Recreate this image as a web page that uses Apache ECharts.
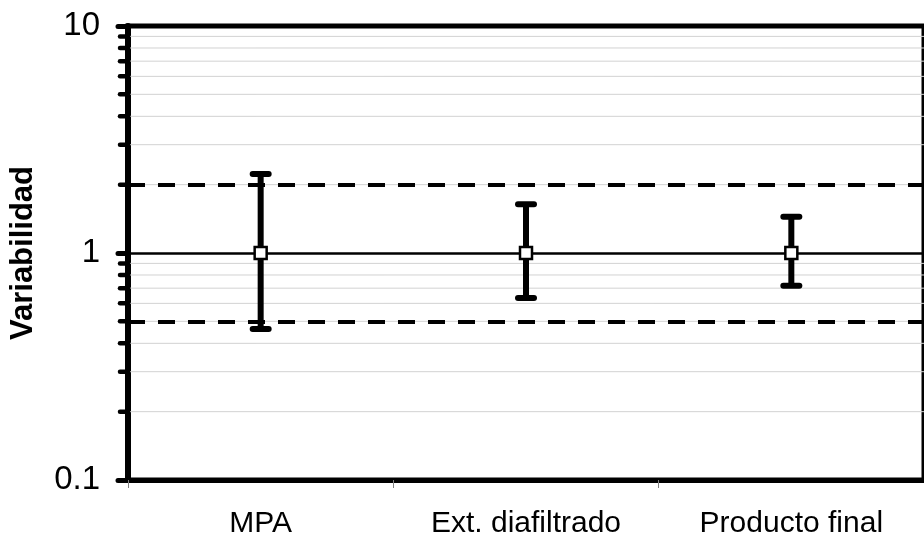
<!DOCTYPE html>
<html>
<head>
<meta charset="utf-8">
<script src="https://cdn.jsdelivr.net/npm/echarts@6/dist/echarts.min.js"></script>
<style>html,body{margin:0;padding:0;background:#fff;}#c{width:924px;height:543px;}</style>
</head>
<body>
<div id="c"></div>
<script>
const categories = ['MPA', 'Ext. diafiltrado', 'Producto final'];
const centerValues = [1, 1, 1];
const lowerValues = [0.463, 0.633, 0.718];
const upperValues = [2.23, 1.64, 1.445];
const referenceValue = 1;
const upperLimit = 2;
const lowerLimit = 0.5;
const yTickLabels = [0.1, 1, 10];
const minorValues = [0.2, 0.3, 0.4, 0.5, 0.6, 0.7, 0.8, 0.9, 2, 3, 4, 5, 6, 7, 8, 9];

const FONT = 'Liberation Sans, Arial, sans-serif';
const chart = echarts.init(document.getElementById('c'), null, {renderer: 'canvas'});

const errorData = categories.map((c, i) => [i, lowerValues[i], upperValues[i]]);

chart.setOption({
  animation: false,
  backgroundColor: '#fff',
  grid: {left: 125, top: 26, width: 805, height: 454, show: true, borderColor: '#000', borderWidth: 5, backgroundColor: 'transparent'},
  xAxis: {
    type: 'category',
    data: categories,
    boundaryGap: true,
    axisLine: {lineStyle: {color: '#000', width: 5}},
    axisTick: {show: true, length: 8, lineStyle: {color: '#808080', width: 1}},
    axisLabel: {color: '#000', fontSize: 30, fontFamily: FONT, margin: 29},
    splitLine: {show: false}
  },
  yAxis: {
    type: 'log',
    logBase: 10,
    min: 0.1,
    max: 10,
    interval: 1,
    name: 'Variabilidad',
    nameLocation: 'middle',
    nameGap: 89,
    nameRotate: 90,
    nameTextStyle: {color: '#000', fontSize: 31, fontWeight: 'bold', fontFamily: FONT},
    axisLine: {show: true, lineStyle: {color: '#000', width: 6}},
    axisTick: {show: true, length: 10, lineStyle: {color: '#000', width: 5, cap: 'round'}},
    axisLabel: {color: '#000', fontSize: 33, fontFamily: FONT, margin: 28,
      formatter: v => { const m = yTickLabels.find(t => Math.abs(t - v) < 1e-9); return m === undefined ? '' : String(m); }},
    splitLine: {show: false}
  },
  series: [
    {
      type: 'custom',
      name: 'minorGrid',
      silent: true,
      clip: false,
      z: 1,
      data: minorValues.map(v => [0, v]),
      renderItem: (params, api) => {
        const cs = params.coordSys;
        const y = api.coord([0, api.value(1)])[1];
        return {
          type: 'group',
          children: [
            {type: 'line', shape: {x1: cs.x, y1: y, x2: cs.x + cs.width, y2: y}, style: {stroke: '#d2d2d2', lineWidth: 1}},
            {type: 'line', shape: {x1: cs.x - 8, y1: y, x2: cs.x, y2: y}, style: {stroke: '#000', lineWidth: 4.5, lineCap: 'round'}}
          ]
        };
      }
    },
    {
      type: 'custom',
      name: 'errorBars',
      silent: true,
      z: 5,
      data: errorData,
      renderItem: (params, api) => {
        const idx = api.value(0);
        const top = api.coord([idx, api.value(2)]);
        const bot = api.coord([idx, api.value(1)]);
        const x = top[0];
        const hw = 8;
        const st = {stroke: '#000', lineWidth: 6, lineCap: 'round'};
        return {
          type: 'group',
          children: [
            {type: 'line', shape: {x1: x, y1: top[1], x2: x, y2: bot[1]}, style: {stroke: '#000', lineWidth: 6}},
            {type: 'line', shape: {x1: x - hw, y1: top[1], x2: x + hw, y2: top[1]}, style: st},
            {type: 'line', shape: {x1: x - hw, y1: bot[1], x2: x + hw, y2: bot[1]}, style: st}
          ]
        };
      }
    },
    {
      type: 'scatter',
      name: 'centers',
      z: 10,
      data: centerValues,
      symbol: 'rect',
      symbolSize: 12,
      itemStyle: {color: '#fff', borderColor: '#000', borderWidth: 2.5, opacity: 1},
      markLine: {
        silent: true,
        symbol: 'none',
        label: {show: false},
        z: 3,
        data: [
          {yAxis: referenceValue, lineStyle: {color: '#000', width: 2.5, type: 'solid'}},
          {yAxis: upperLimit, lineStyle: {color: '#000', width: 4, type: [17, 13]}},
          {yAxis: lowerLimit, lineStyle: {color: '#000', width: 4, type: [17, 13]}}
        ]
      }
    }
  ]
});
</script>
</body>
</html>
